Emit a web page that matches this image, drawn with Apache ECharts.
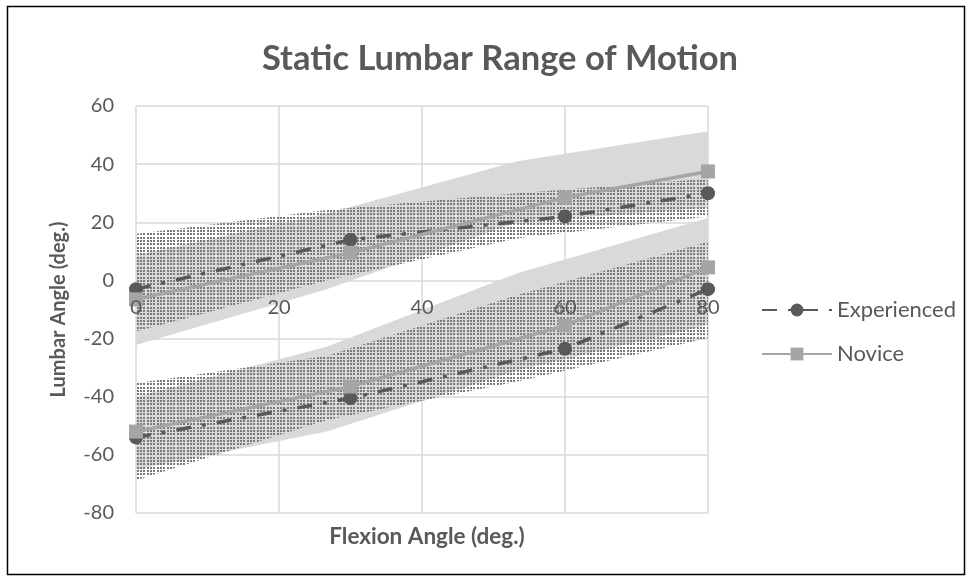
<!DOCTYPE html>
<html><head><meta charset="utf-8">
<script src="https://cdn.jsdelivr.net/npm/echarts@6/dist/echarts.min.js"></script>
<style>html,body{margin:0;padding:0;background:#fff}#c{width:972px;height:581px}</style>
</head><body><div id="c"></div>
<script>
// ---- data ----
const angles = [0, 30, 60, 80];
const bandCategories = ['0', '30', '60', '80'];
const expUpper = [-3, 14, 22, 30];
const novUpper = [-6.5, 9.5, 28.5, 37.5];
const expLower = [-54, -40.5, -23.5, -3];
const novLower = [-52, -36.5, -15.5, 4.5];
// shaded bands (upper/lower edges)
const novUpperBandHi = [8.7, 23, 41, 51.3];
const novUpperBandLo = [-22.2, -3, 20, 25];
const expUpperBandHi = [16, 24.2, 30, 35];
const expUpperBandLo = [-17.6, 0, 14.5, 22];
const novLowerBandHi = [-40, -22.8, 2.5, 21.5];
const novLowerBandLo = [-65, -52, -31, -15.3];
const expLowerBandHi = [-35.4, -26, -5, 13.3];
const expLowerBandLo = [-68.7, -48, -34.8, -19.8];

// ---- styles ----
const TXT = '#595959', GRID = '#d9d9d9', EXP = '#595959', NOV = '#a5a5a5';
const FONT = 'Lato';
const pat = document.createElement('canvas');
pat.width = 10; pat.height = 10;
const pc = pat.getContext('2d');
pc.fillStyle = '#7a7a7a';
[0, 3, 7].forEach(px => [0, 3, 7].forEach(py => pc.fillRect(px, py, 2, 2)));

function pairs(xs, ys) { return xs.map((x, i) => [x, ys[i]]); }
function band(id, lo, hi, fill, z) {
  return [
    { type: 'line', name: id + '_lo', xAxisIndex: 1, stack: id, stackStrategy: 'all',
      data: lo, symbol: 'none', lineStyle: { opacity: 0 }, silent: true, z: z },
    { type: 'line', name: id + '_hi', xAxisIndex: 1, stack: id, stackStrategy: 'all',
      data: hi.map((v, i) => v - lo[i]), symbol: 'none', lineStyle: { opacity: 0 },
      areaStyle: { color: fill, opacity: 1 }, silent: true, z: z }
  ];
}
const dotFill = { image: pat, repeat: 'repeat' };

const expLine = { width: 3.5, color: EXP, type: [15, 11, 4, 11], cap: 'butt' };
const novLine = { width: 3.5, color: NOV, type: 'solid' };

const chart = echarts.init(document.getElementById('c'), null, { renderer: 'canvas' });
chart.setOption({
  animation: false,
  backgroundColor: '#fff',
  title: [
    { text: 'Static Lumbar Range of Motion', left: 495, top: 36, textAlign: 'center',
      textStyle: { fontFamily: FONT, fontWeight: 'bold', fontSize: 34.5, color: TXT } },
    { text: 'Flexion Angle (deg.)', left: 422, top: 520, textAlign: 'center',
      textStyle: { fontFamily: FONT, fontWeight: 'bold', fontSize: 22.5, color: TXT } }
  ],
  grid: { left: 136, right: 264, top: 106, bottom: 68, containLabel: false },
  legend: {
    data: ['Experienced', 'Novice'], orient: 'vertical', left: 756, top: 294,
    itemWidth: 70, itemHeight: 16, itemGap: 22,
    textStyle: { fontFamily: FONT, fontSize: 22, color: TXT, lineHeight: 22 }
  },
  xAxis: [
    { type: 'value', min: 0, max: 80, interval: 20, position: 'bottom',
      axisLine: { show: false, onZero: false }, axisTick: { show: false },
      axisLabel: { show: false },
      splitLine: { show: true, lineStyle: { color: GRID, width: 1.5 } } },
    { type: 'category', data: bandCategories, boundaryGap: false, position: 'top', show: false,
      axisLine: { show: false, onZero: false } },
    { type: 'value', min: 0, max: 80, interval: 20, position: 'bottom', z: 10,
      axisLine: { show: false, onZero: false }, axisTick: { show: false },
      splitLine: { show: false },
      axisLabel: { fontFamily: FONT, fontSize: 20, color: TXT, margin: 17 } }
  ],
  yAxis: {
    type: 'value', min: -80, max: 60, interval: 20,
    axisLine: { show: false }, axisTick: { show: false },
    splitLine: { show: true, lineStyle: { color: GRID, width: 1.5 } },
    axisLabel: { fontFamily: FONT, fontSize: 20, color: TXT, margin: 22 },
    name: 'Lumbar Angle (deg.)', nameLocation: 'middle', nameGap: 67, nameRotate: 90,
    nameTextStyle: { fontFamily: FONT, fontWeight: 'bold', fontSize: 20, color: TXT }
  },
  graphic: [{ type: 'rect', shape: { x: 7.5, y: 6.5, width: 957, height: 568 },
    style: { fill: 'none', stroke: '#000', lineWidth: 1.5 }, silent: true, z: 100 }],
  series: [
    ...band('nu', novUpperBandLo, novUpperBandHi, '#d9d9d9', 1),
    ...band('nl', novLowerBandLo, novLowerBandHi, '#d9d9d9', 1),
    ...band('eu', expUpperBandLo, expUpperBandHi, dotFill, 2),
    ...band('el', expLowerBandLo, expLowerBandHi, dotFill, 2),
    { type: 'line', name: 'Experienced', xAxisIndex: 0, data: pairs(angles, expUpper),
      symbol: 'circle', symbolSize: 14, itemStyle: { color: EXP }, lineStyle: expLine, z: 3 },
    { type: 'line', name: 'Experienced', xAxisIndex: 0, data: pairs(angles, expLower),
      symbol: 'circle', symbolSize: 14, itemStyle: { color: EXP }, lineStyle: expLine, z: 3 },
    { type: 'line', name: 'Novice', xAxisIndex: 0, data: pairs(angles, novUpper),
      symbol: 'rect', symbolSize: 14, itemStyle: { color: NOV }, lineStyle: novLine, z: 4 },
    { type: 'line', name: 'Novice', xAxisIndex: 0, data: pairs(angles, novLower),
      symbol: 'rect', symbolSize: 14, itemStyle: { color: NOV }, lineStyle: novLine, z: 4 }
  ]
});
// place the x-axis labels where y = 0, as the reference does
const yZero = chart.convertToPixel({ yAxisIndex: 0 }, 0);
const yMin = chart.convertToPixel({ yAxisIndex: 0 }, -80);
chart.setOption({ xAxis: [{}, {}, { offset: yZero - yMin }] });
</script></body></html>
